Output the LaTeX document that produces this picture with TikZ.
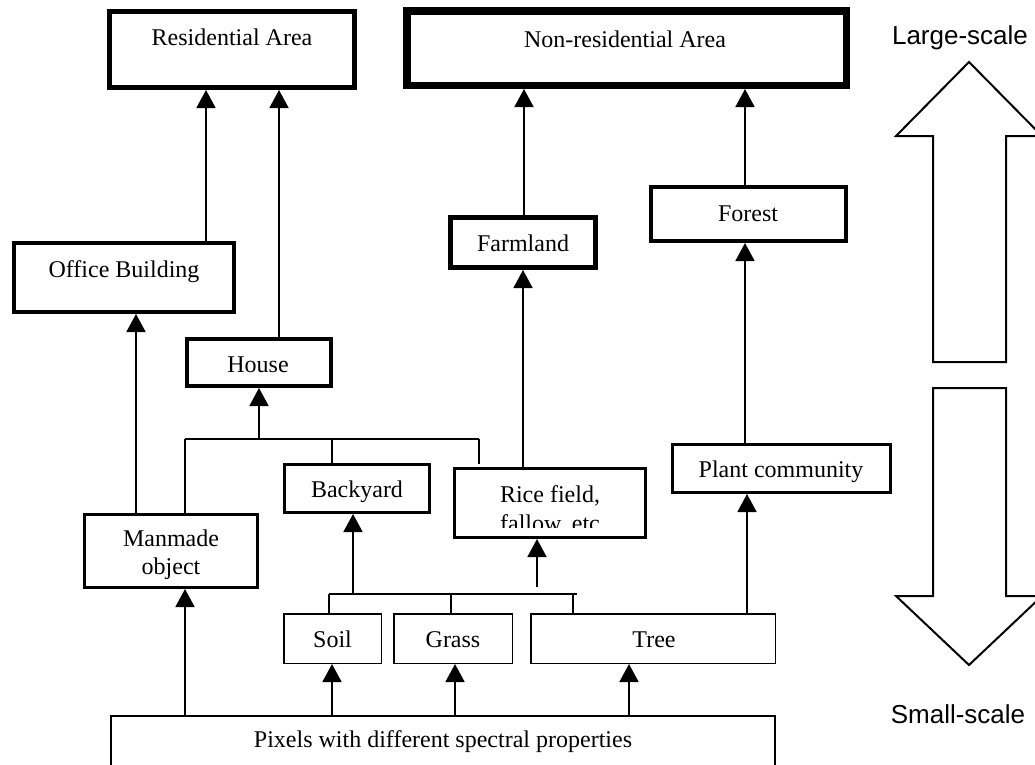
\documentclass[tikz,border=0pt]{standalone}
\usepackage{fontspec}
\setmainfont{Liberation Serif}
\newfontfamily\arialfont{Liberation Sans}
\usetikzlibrary{arrows.meta}
\tikzset{
  box/.style={draw, rectangle, inner sep=0pt, fill=white},
  lbl/.style={inner sep=0pt, font=\fontsize{24}{28}\selectfont},
  scalelbl/.style={inner sep=0pt, font=\arialfont\fontsize{26}{30}\selectfont},
  conn/.style={line width=1.8pt},
  arr/.style={line width=1.8pt, -{Triangle[width=19pt,length=18pt]}},
  bigarrow/.style={draw, line width=2pt, line join=miter, fill=white}
}
\begin{document}
\begin{tikzpicture}[x=1pt,y=-1pt]
\useasboundingbox (0,0) rectangle (1035,764);
\clip (0,0) rectangle (1035,764);

% boxes
\node[box, line width=5pt, minimum width=245pt, minimum height=76pt] (res) at (232,49.5) {};
\node[box, line width=7.5pt, minimum width=439.5pt, minimum height=74.5pt] (nonres) at (626.5,48) {};
\node[box, line width=4pt, minimum width=220pt, minimum height=69pt] (office) at (124,277.5) {};
\node[box, line width=4pt, minimum width=144pt, minimum height=47pt] (house) at (259,362.5) {};
\node[box, line width=5pt, minimum width=145pt, minimum height=50pt] (farm) at (523,242.5) {};
\node[box, line width=4pt, minimum width=195pt, minimum height=54pt] (forest) at (748.5,214) {};
\node[box, line width=3pt, minimum width=173pt, minimum height=73pt] (man) at (171,551) {};
\node[box, line width=3pt, minimum width=145pt, minimum height=48pt] (back) at (357,488.5) {};
\node[box, line width=3pt, minimum width=191pt, minimum height=69pt] (rice) at (550,503) {};
\node[box, line width=3pt, minimum width=218pt, minimum height=48pt] (plant) at (781.5,468.5) {};
\node[box, line width=1.5pt, minimum width=97.5pt, minimum height=49.5pt] (soil) at (332.5,638.5) {};
\node[box, line width=1.5pt, minimum width=118.5pt, minimum height=49.5pt] (grass) at (453,638.5) {};
\node[box, line width=1.5pt, minimum width=244.5pt, minimum height=49.5pt] (tree) at (653,638.5) {};
\node[box, line width=2pt, minimum width=664pt, minimum height=83pt] (pix) at (443,757.5) {};

% labels
\node[lbl, anchor=base] (resT) at (232,45) {Residential Area};
\node[lbl, anchor=base] (nonresT) at (625,47.5) {Non-residential Area};
\node[lbl, anchor=base] (officeT) at (124,277) {Office Building};
\node[lbl, anchor=base] (houseT) at (258,372.5) {House};
\node[lbl, anchor=base] (farmT) at (523,251) {Farmland};
\node[lbl, anchor=base] (forestT) at (748,221.5) {Forest};
\node[lbl, anchor=base] (manT1) at (171,546.5) {Manmade};
\node[lbl, anchor=base] (manT2) at (171,574.5) {object};
\node[lbl, anchor=base] (backT) at (357,497) {Backyard};
\node[lbl, anchor=base] (riceT1) at (550,502.5) {Rice field,};
\begin{scope}
  \clip (454.5,468.5) rectangle (645.5,527);
  \node[lbl, anchor=base] (riceT2) at (550,531) {fallow, etc};
\end{scope}
\node[lbl, anchor=base] (plantT) at (781,477.3) {Plant community};
\node[lbl, anchor=base] (soilT) at (332.5,647.7) {Soil};
\node[lbl, anchor=base] (grassT) at (453,647.7) {Grass};
\node[lbl, anchor=base] (treeT) at (654,647.7) {Tree};
\node[lbl, anchor=base] (pixT) at (443,747) {Pixels with different spectral properties};

% scale labels and big arrows
\node[scalelbl, anchor=base] (largeT) at (960,44) {Large-scale};
\node[scalelbl, anchor=base] (smallT) at (958,723) {Small-scale};
\path[bigarrow] (969,62) -- (1042,136) -- (1006,136) -- (1006,362) -- (933,362) -- (933,136) -- (896,136) -- cycle;
\path[bigarrow] (933,388) -- (1006,388) -- (1006,596) -- (1042,596) -- (969,665) -- (896,596) -- (933,596) -- cycle;

% bus levels
\coordinate (lowbus) at (0,594);
\coordinate (upbus) at (0,439);

% pixels to first level
\draw[arr] ([xshift=-258pt]pix.north) -- ([xshift=-258pt]pix.north |- man.south);
\draw[arr] ([xshift=-111pt]pix.north) -- ([xshift=-111pt]pix.north |- soil.south);
\draw[arr] ([xshift=12pt]pix.north) -- ([xshift=12pt]pix.north |- grass.south);
\draw[arr] ([xshift=186pt]pix.north) -- ([xshift=186pt]pix.north |- tree.south);

% lower bus
\draw[conn] ([xshift=-3.5pt]soil.north) -- ([xshift=-3.5pt]soil.north |- lowbus);
\draw[conn] ([xshift=-2pt]grass.north) -- ([xshift=-2pt]grass.north |- lowbus);
\draw[conn] ([xshift=-80pt]tree.north) -- ([xshift=-80pt]tree.north |- lowbus);
\draw[conn] ([xshift=-3.5pt]soil.north |- lowbus) -- ([xshift=-76pt]tree.north |- lowbus);
\draw[arr] ([xshift=-4pt]back.south |- lowbus) -- ([xshift=-4pt]back.south);
\draw[arr] ([xshift=-13pt,yshift=-48pt]rice.south) -- ([xshift=-13pt]rice.south);

% tree to plant community to forest
\draw[arr] ([xshift=94pt]tree.north) -- ([xshift=94pt]tree.north |- plant.south);
\draw[arr] ([xshift=-36.5pt]plant.north) -- ([xshift=-36.5pt]plant.north |- forest.south);
\draw[arr] ([xshift=-3.5pt]forest.north) -- ([xshift=-3.5pt]forest.north |- nonres.south);

% rice to farmland to non-residential
\draw[arr] ([xshift=-27pt]rice.north) -- ([xshift=-27pt]rice.north |- farm.south);
\draw[arr] ([xshift=1pt]farm.north) -- ([xshift=1pt]farm.north |- nonres.south);

% upper bus
\draw[conn] ([xshift=14pt]man.north) -- ([xshift=14pt]man.north |- upbus);
\draw[conn] ([xshift=-25pt]back.north) -- ([xshift=-25pt]back.north |- upbus);
\draw[conn] ([xshift=-71pt,yshift=3pt]rice.north) -- ([xshift=-71pt]rice.north |- upbus);
\draw[conn] ([xshift=14pt]man.north |- upbus) -- ([xshift=-71pt]rice.north |- upbus);
\draw[arr] (house.south |- upbus) -- (house.south);

% to residential
\draw[arr] ([xshift=20pt]house.north) -- ([xshift=20pt]house.north |- res.south);
\draw[arr] ([xshift=-35pt]man.north) -- ([xshift=-35pt]man.north |- office.south);
\draw[arr] ([xshift=82pt]office.north) -- ([xshift=82pt]office.north |- res.south);
\end{tikzpicture}
\end{document}
